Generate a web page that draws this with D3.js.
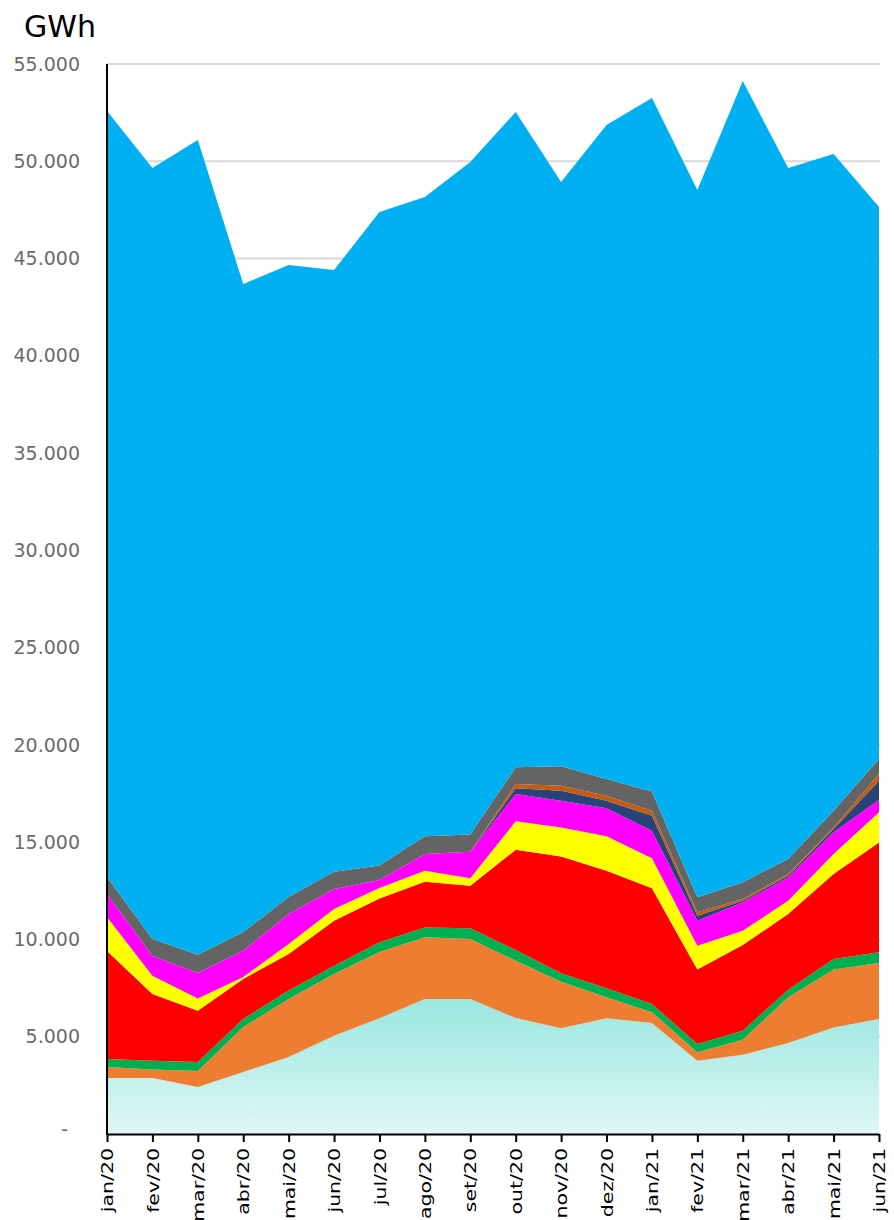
<!DOCTYPE html>
<html>
<head>
<meta charset="utf-8">
<script src="https://cdn.jsdelivr.net/npm/d3@7"></script>
<style>
  body { margin: 0; background: #fff; }
  text { font-family: "DejaVu Sans", Verdana, sans-serif; }
</style>
</head>
<body>
<div id="graph"></div>
<script>
// monthly generation, GWh
var months = ["jan/20","fev/20","mar/20","abr/20","mai/20","jun/20","jul/20","ago/20","set/20",
              "out/20","nov/20","dez/20","jan/21","fev/21","mar/21","abr/21","mai/21","jun/21"];
var eolica    = [2880, 2880, 2420, 3190, 3960, 5050, 5950, 6940, 6940, 5960, 5430, 5950, 5710, 3770, 4080, 4680, 5480, 5910];
var biomassa  = [560, 430, 820, 2310, 2980, 3170, 3400, 3170, 3080, 2950, 2400, 1080, 550, 430, 770, 2350, 2970, 2880];
var solar     = [420, 460, 460, 410, 430, 430, 500, 510, 550, 550, 430, 460, 420, 430, 460, 390, 550, 550];
var gas       = [5550, 3430, 2640, 2060, 1880, 2310, 2250, 2350, 2190, 5150, 6010, 6040, 5950, 3820, 4400, 3890, 4360, 5650];
var carvao    = [1740, 940, 630, 100, 520, 610, 550, 560, 380, 1460, 1490, 1770, 1540, 1230, 740, 680, 1030, 1550];
var nuclear   = [1190, 1010, 1300, 1350, 1540, 1020, 400, 860, 1370, 1410, 1370, 1440, 1420, 1280, 1460, 1200, 1120, 640];
var oleo      = [0, 0, 0, 0, 0, 0, 0, 0, 0, 290, 520, 390, 770, 260, 80, 90, 170, 980];
var diesel    = [0, 0, 0, 0, 0, 0, 0, 0, 0, 220, 250, 260, 260, 180, 90, 80, 80, 340];
var outras    = [870, 870, 950, 960, 870, 890, 750, 910, 890, 860, 1000, 860, 980, 770, 860, 780, 860, 780];
var hidraulica = [39370, 39630, 41870, 33310, 32490, 30930, 33590, 32860, 34560, 33680, 30030, 33610, 35650, 36350, 41180, 35510, 33750, 28370];
var yTicks = [0, 5000, 10000, 15000, 20000, 25000, 30000, 35000, 40000, 45000, 50000, 55000];

var keys = ["eolica","biomassa","solar","gas","carvao","nuclear","oleo","diesel","outras","hidraulica"];
var colors = {eolica: "url(#tealGrad)", biomassa: "#ed7d31", solar: "#00b050", gas: "#ff0000",
              carvao: "#ffff00", nuclear: "#ff00ff", oleo: "#264478", diesel: "#c55a11",
              outras: "#646464", hidraulica: "#00b0f0"};
var series = {eolica: eolica, biomassa: biomassa, solar: solar, gas: gas, carvao: carvao,
              nuclear: nuclear, oleo: oleo, diesel: diesel, outras: outras, hidraulica: hidraulica};

// table for d3.stack
var rows = months.map(function(m, i) {
	var r = {month: m};
	keys.forEach(function(k) { r[k] = series[k][i]; });
	return r;
});

var margin = {top: 64, right: 15, bottom: 86, left: 107},
	width = 894 - margin.left - margin.right,
	height = 1220 - margin.top - margin.bottom;

var xScale = d3.scalePoint().domain(months).range([0, 772]);
var yScale = d3.scaleLinear().domain([0, 55000]).range([height, 0]);

var svgRoot = d3.select("div#graph").append("svg")
	.attr("width", 894)
	.attr("height", 1220);

var grad = svgRoot.append("defs").append("linearGradient")
	.attr("id", "tealGrad")
	.attr("gradientUnits", "userSpaceOnUse")
	.attr("x1", 0).attr("x2", 0)
	.attr("y1", yScale(7000)).attr("y2", yScale(0));
grad.append("stop").attr("offset", "0%").attr("stop-color", "#98e7df");
grad.append("stop").attr("offset", "100%").attr("stop-color", "#e0f7f5");

var svg = svgRoot.append("g")
	.attr("transform", "translate(" + margin.left + "," + margin.top + ")");

// gridlines
svg.selectAll("line.grid").data(yTicks.slice(1)).enter().append("line")
	.attr("class", "grid")
	.attr("x1", 0).attr("x2", 773)
	.attr("y1", function(d) { return yScale(d); })
	.attr("y2", function(d) { return yScale(d); })
	.attr("stroke", "#d9d9d9")
	.attr("stroke-width", 2);

var stacked = d3.stack().keys(keys)(rows);
var area = d3.area()
	.x(function(d) { return xScale(d.data.month); })
	.y0(function(d) { return yScale(d[0]); })
	.y1(function(d) { return yScale(d[1]); });

svg.selectAll("path.layer").data(stacked).enter().append("path")
	.attr("class", "layer")
	.attr("fill", function(d) { return colors[d.key]; })
	.attr("d", area);

// y axis
var loc = d3.formatLocale({decimal: ",", thousands: ".", grouping: [3], currency: ["", ""]});
var fmt = loc.format(",d");
var yAxis = svg.append("g")
	.call(d3.axisLeft(yScale).tickValues(yTicks).tickSize(0).tickPadding(27)
		.tickFormat(function(d) { return d === 0 ? "-" : fmt(d); }));
yAxis.select(".domain").remove();
yAxis.selectAll("text")
	.attr("fill", "#6b6b6b")
	.style("font-size", "19px")
	.style("font-family", "'DejaVu Sans', Verdana, sans-serif");
yAxis.selectAll(".tick").filter(function(d) { return d === 0; }).select("text")
	.attr("x", -39).attr("dy", "0.1em");

svg.append("line")
	.attr("x1", 0).attr("x2", 0).attr("y1", 0).attr("y2", height + 1)
	.attr("stroke", "#000").attr("stroke-width", 2);

// x axis
var xAxis = svg.append("g")
	.attr("transform", "translate(0," + height + ")")
	.call(d3.axisBottom(xScale).tickSize(8).tickSizeOuter(0));
xAxis.select(".domain").attr("stroke", "#000").attr("stroke-width", 2);
xAxis.selectAll(".tick line").attr("stroke", "#000").attr("stroke-width", 2);
xAxis.selectAll("text")
	.attr("fill", "#000")
	.attr("text-anchor", "end")
	.attr("dy", "0.35em")
	.attr("x", 0).attr("y", 0)
	.attr("transform", "translate(0,14) rotate(-90) scale(1.28,1)")
	.style("font-size", "16px")
	.style("font-family", "'DejaVu Sans', Verdana, sans-serif");

// unit title
svgRoot.append("text")
	.attr("x", 24).attr("y", 37)
	.attr("fill", "#000")
	.style("font-size", "30px")
	.text("GWh");
</script>
</body>
</html>
